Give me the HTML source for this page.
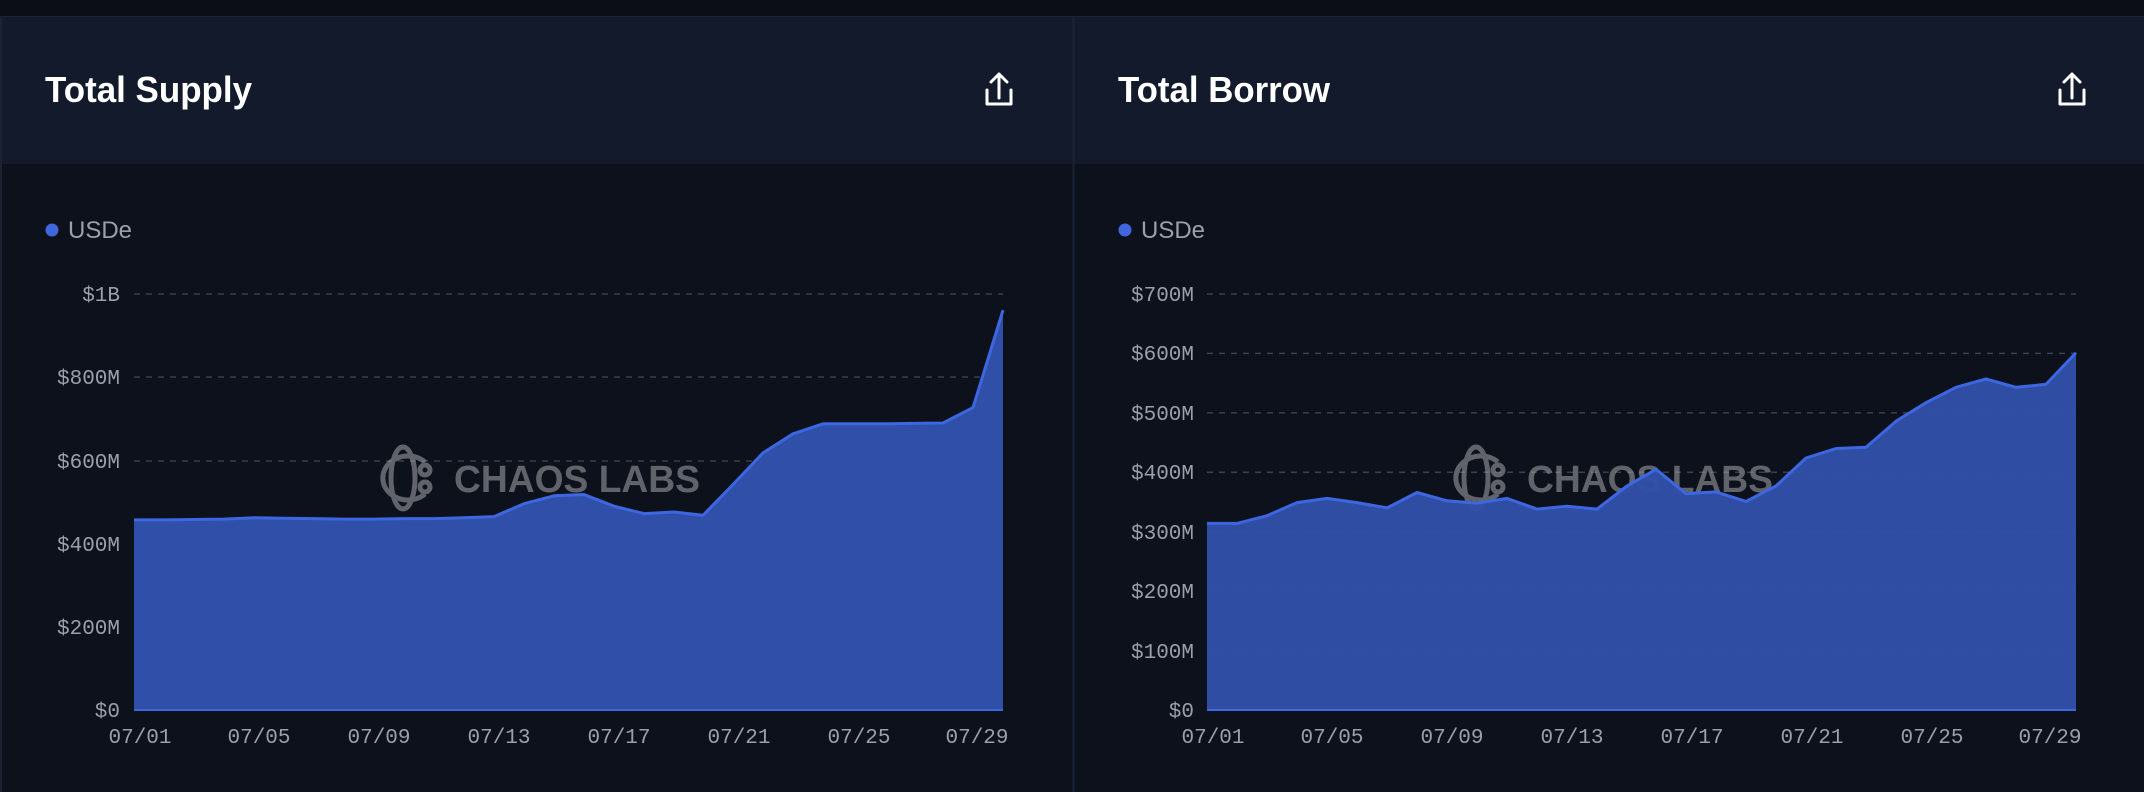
<!DOCTYPE html>
<html><head><meta charset="utf-8"><style>
html,body{margin:0;padding:0;background:#0d111c;}
svg{display:block}
</style></head><body>
<svg width="2144" height="792" xmlns="http://www.w3.org/2000/svg" font-family="Liberation Sans, sans-serif">
<rect width="2144" height="792" fill="#0d111c"/>
<rect x="0" y="0" width="2144" height="16" fill="#0b0e17"/>
<rect x="0" y="16" width="2144" height="148" fill="#131a2b"/>
<line x1="0" y1="16.5" x2="2144" y2="16.5" stroke="#1c2233"/>
<line x1="1073.5" y1="16" x2="1073.5" y2="792" stroke="#1c2233" stroke-width="2"/>
<line x1="1" y1="16" x2="1" y2="792" stroke="#1c2233" stroke-width="2"/>

<g id="L">
<text x="45" y="102" fill="#ffffff" font-size="36" font-weight="bold" textLength="207" lengthAdjust="spacingAndGlyphs">Total Supply</text>
<g fill="none" stroke="#ffffff" stroke-width="3" stroke-linecap="round" stroke-linejoin="round">
<path d="M987 90 v14 h24 v-14"/><path d="M999 98 v-24 M991 82 l8 -8 l8 8"/>
</g>
<circle cx="52" cy="230" r="6.5" fill="#3f66dc"/>
<text x="68" y="238" fill="#9aa0ab" font-size="24">USDe</text>
<g stroke="#3a3f4b" stroke-dasharray="6 6" stroke-width="1.5">
<line x1="134" y1="294" x2="1003" y2="294"/><line x1="134" y1="377" x2="1003" y2="377"/>
<line x1="134" y1="461" x2="1003" y2="461"/><line x1="134" y1="544" x2="1003" y2="544"/>
<line x1="134" y1="627" x2="1003" y2="627"/>
</g>
<g font-family="Liberation Mono, monospace" font-size="21" fill="#9aa0ab" text-anchor="end">
<text x="120" y="301">$1B</text><text x="120" y="384">$800M</text><text x="120" y="468">$600M</text>
<text x="120" y="551">$400M</text><text x="120" y="634">$200M</text><text x="120" y="717">$0</text>
</g>
<g font-family="Liberation Mono, monospace" font-size="21" fill="#9aa0ab" text-anchor="middle">
<text x="140" y="743">07/01</text><text x="259" y="743">07/05</text><text x="379" y="743">07/09</text>
<text x="499" y="743">07/13</text><text x="619" y="743">07/17</text><text x="739" y="743">07/21</text>
<text x="859" y="743">07/25</text><text x="977" y="743">07/29</text>
</g>
<path fill="#2f4fa8" d="M134 710 L134 519.9 L164 519.9 L194 519.5 L224 519.1 L254 517.8 L284 518.2 L314 518.6 L344 519.1 L374 519.1 L404 518.6 L434 518.6 L464 517.8 L494 516.6 L524 503.7 L554 495.8 L584 494.5 L614 506.2 L644 513.6 L674 512 L703 515.3 L733 484.5 L763 452.9 L793 433.8 L823 423.8 L853 423.8 L883 423.8 L913 423.4 L943 423 L973 407.6 L1003 310.2 L1003 710 Z"/>
<path fill="none" stroke="#3d67e0" stroke-width="3" stroke-linejoin="round" d="M134 519.9 L164 519.9 L194 519.5 L224 519.1 L254 517.8 L284 518.2 L314 518.6 L344 519.1 L374 519.1 L404 518.6 L434 518.6 L464 517.8 L494 516.6 L524 503.7 L554 495.8 L584 494.5 L614 506.2 L644 513.6 L674 512 L703 515.3 L733 484.5 L763 452.9 L793 433.8 L823 423.8 L853 423.8 L883 423.8 L913 423.4 L943 423 L973 407.6 L1003 310.2"/>
<line x1="134" y1="710" x2="1003" y2="710" stroke="#3d67e0" stroke-width="2"/>
<g opacity="0.55" fill="none" stroke="#a4a6ab" stroke-width="5">
<ellipse cx="403" cy="478" rx="12" ry="31"/>
<path d="M425 462 A25 22 0 1 0 425 494"/>
<circle cx="425" cy="470" r="5"/><circle cx="425" cy="487" r="5"/>
</g>
<text x="454" y="492" fill="#a4a6ab" opacity="0.55" font-size="38" font-weight="bold" textLength="246" lengthAdjust="spacingAndGlyphs">CHAOS LABS</text>
</g>

<g transform="translate(1073,0)">
<text x="45" y="102" fill="#ffffff" font-size="36" font-weight="bold" textLength="212" lengthAdjust="spacingAndGlyphs">Total Borrow</text>
<g fill="none" stroke="#ffffff" stroke-width="3" stroke-linecap="round" stroke-linejoin="round">
<path d="M987 90 v14 h24 v-14"/><path d="M999 98 v-24 M991 82 l8 -8 l8 8"/>
</g>
<circle cx="52" cy="230" r="6.5" fill="#3f66dc"/>
<text x="68" y="238" fill="#9aa0ab" font-size="24">USDe</text>
<g stroke="#3a3f4b" stroke-dasharray="6 6" stroke-width="1.5">
<line x1="134" y1="294" x2="1003" y2="294"/><line x1="134" y1="353.4" x2="1003" y2="353.4"/>
<line x1="134" y1="412.9" x2="1003" y2="412.9"/><line x1="134" y1="472.3" x2="1003" y2="472.3"/>
<line x1="134" y1="531.7" x2="1003" y2="531.7"/><line x1="134" y1="591.1" x2="1003" y2="591.1"/>
<line x1="134" y1="650.6" x2="1003" y2="650.6"/>
</g>
<g font-family="Liberation Mono, monospace" font-size="21" fill="#9aa0ab" text-anchor="end">
<text x="121" y="301">$700M</text><text x="121" y="360">$600M</text><text x="121" y="420">$500M</text>
<text x="121" y="479">$400M</text><text x="121" y="539">$300M</text><text x="121" y="598">$200M</text>
<text x="121" y="658">$100M</text><text x="121" y="717">$0</text>
</g>
<g font-family="Liberation Mono, monospace" font-size="21" fill="#9aa0ab" text-anchor="middle">
<text x="140" y="743">07/01</text><text x="259" y="743">07/05</text><text x="379" y="743">07/09</text>
<text x="499" y="743">07/13</text><text x="619" y="743">07/17</text><text x="739" y="743">07/21</text>
<text x="859" y="743">07/25</text><text x="977" y="743">07/29</text>
</g>
<g opacity="0.55" fill="none" stroke="#a4a6ab" stroke-width="5">
<ellipse cx="403" cy="478" rx="12" ry="31"/>
<path d="M425 462 A25 22 0 1 0 425 494"/>
<circle cx="425" cy="470" r="5"/><circle cx="425" cy="487" r="5"/>
</g>
<text x="454" y="492" fill="#a4a6ab" opacity="0.55" font-size="38" font-weight="bold" textLength="246" lengthAdjust="spacingAndGlyphs">CHAOS LABS</text>
<g transform="translate(-1073,0)">
<path fill="#2f4fa8" fill-opacity="0.97" d="M1207 710 L1207 523.4 L1237 523.4 L1267 515.7 L1297 502.6 L1327 498.4 L1357 502.6 L1387 507.9 L1417 492.5 L1447 500.8 L1477 503.2 L1507 498.4 L1537 509.1 L1567 506.2 L1597 509.1 L1627 486 L1656 469.3 L1686 493.7 L1716 491.9 L1746 501.4 L1776 486 L1806 458 L1836 448.5 L1866 447.3 L1896 421.2 L1926 402.7 L1956 387.3 L1986 379 L2016 387.3 L2046 384.3 L2076 352.8 L2076 710 Z"/>
<path fill="none" stroke="#3d67e0" stroke-width="3" stroke-linejoin="round" d="M1207 523.4 L1237 523.4 L1267 515.7 L1297 502.6 L1327 498.4 L1357 502.6 L1387 507.9 L1417 492.5 L1447 500.8 L1477 503.2 L1507 498.4 L1537 509.1 L1567 506.2 L1597 509.1 L1627 486 L1656 469.3 L1686 493.7 L1716 491.9 L1746 501.4 L1776 486 L1806 458 L1836 448.5 L1866 447.3 L1896 421.2 L1926 402.7 L1956 387.3 L1986 379 L2016 387.3 L2046 384.3 L2076 352.8"/>
<line x1="1207" y1="710" x2="2076" y2="710" stroke="#3d67e0" stroke-width="2"/>
</g>
</g>
</svg>
</body></html>
